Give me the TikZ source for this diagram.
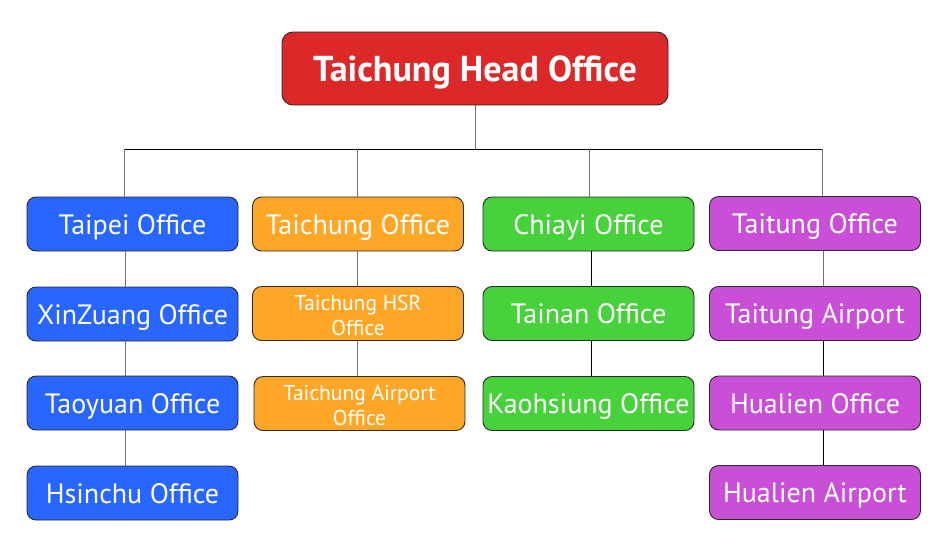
\documentclass[tikz,border=0pt]{standalone}
\usepackage{fontspec}
\setmainfont{PT Sans}
\definecolor{hred}{HTML}{DC2828}
\definecolor{cblue}{HTML}{2866FF}
\definecolor{corange}{HTML}{FEA626}
\definecolor{cgreen}{HTML}{47D13A}
\definecolor{cpurple}{HTML}{C84FD6}
\definecolor{edge}{HTML}{2A2A2A}
\definecolor{conn}{HTML}{707070}
\tikzset{
  basebox/.style={draw=edge, line width=0.9pt, rounded corners=9pt, minimum width=211pt, minimum height=54pt, inner sep=0pt, text=white, align=center},
  box/.style={basebox, font=\fontsize{28}{32}\selectfont, text height=20pt, text depth=0pt},
  smallbox/.style={basebox, font=\fontsize{21.5}{25}\selectfont},
  headbox/.style={draw=edge, line width=0.9pt, rounded corners=11pt, fill=hred, minimum width=386pt, minimum height=73pt, inner sep=0pt, text=white, font=\bfseries\fontsize{36}{40}\selectfont, text height=25pt, text depth=0pt},
  vline/.style={draw=conn, line width=1pt},
  hline/.style={draw=black, line width=1pt}
}
\begin{document}
\begin{tikzpicture}[x=1pt,y=-1pt]
\useasboundingbox[fill=white] (0,0) rectangle (947,550);
\node[headbox] (head) at (475,68.5) {Taichung Head Office};
% column 1
\node[box, fill=cblue] (a1) at (132.5,224) {Taipei Office};
\node[box, fill=cblue] (a2) at (132.5,314) {XinZuang Office};
\node[box, fill=cblue] (a3) at (132.5,403) {Taoyuan Office};
\node[box, fill=cblue] (a4) at (132.5,493) {Hsinchu Office};
% column 2
\node[box, fill=corange] (b1) at (358,224) {Taichung Office};
\node[smallbox, fill=corange] (b2) at (358,313.5) {\rule{0pt}{19pt}Taichung HSR\\Office};
\node[smallbox, fill=corange] (b3) at (359.5,403.5) {\rule{0pt}{19pt}Taichung Airport\\Office};
% column 3
\node[box, fill=cgreen] (c1) at (588.5,224) {Chiayi Office};
\node[box, fill=cgreen] (c2) at (588.5,313.5) {Tainan Office};
\node[box, fill=cgreen] (c3) at (588.5,403.5) {Kaohsiung Office};
% column 4
\node[box, fill=cpurple] (e1) at (815,223.5) {Taitung Office};
\node[box, fill=cpurple] (e2) at (815,313.5) {Taitung Airport};
\node[box, fill=cpurple] (e3) at (815,403) {Hualien Office};
\node[box, fill=cpurple] (e4) at (815,492.5) {Hualien Airport};
% bus
\coordinate (bus) at (475,149);
\coordinate (d1) at (124,149);
\coordinate (d2) at (357,149);
\coordinate (d3) at (589,149);
\coordinate (d4) at (822,149);
\draw[vline] (head.south) -- (bus);
\draw[hline] (d1) -- (d4);
\foreach \d/\n in {d1/a1,d2/b1,d3/c1,d4/e1}{
  \draw[vline] (\d) -- (\d |- \n.north);
}
\coordinate (k1) at (125,0);
\coordinate (k2) at (357,0);
\coordinate (k3) at (591,0);
\coordinate (k4) at (823,0);
\draw[vline] (a1.south -| k1) -- (a2.north -| k1);
\draw[vline] (a2.south -| k1) -- (a3.north -| k1);
\draw[vline] (a3.south -| k1) -- (a4.north -| k1);
\draw[vline] (b1.south -| k2) -- (b2.north -| k2);
\draw[vline] (b2.south -| k2) -- (b3.north -| k2);
\draw[hline] (c1.south -| k3) -- (c2.north -| k3);
\draw[hline] (c2.south -| k3) -- (c3.north -| k3);
\draw[vline] (e1.south -| k4) -- (e2.north -| k4);
\draw[hline] (e2.south -| k4) -- (e3.north -| k4);
\draw[hline] (e3.south -| k4) -- (e4.north -| k4);
\end{tikzpicture}
\end{document}
